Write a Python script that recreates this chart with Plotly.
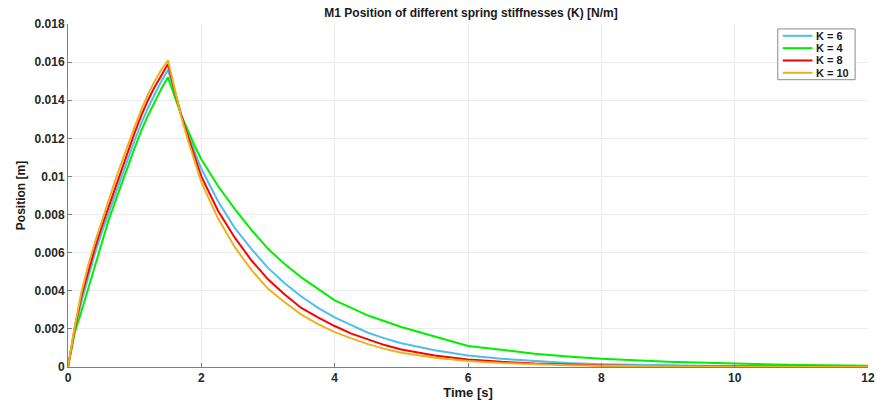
import plotly.graph_objects as go

# Time samples [s]
time_s = [0, 0.05, 0.1, 0.2, 0.3, 0.4, 0.5, 0.6, 0.7, 0.8, 0.9, 1.0, 1.1, 1.2, 1.3, 1.4, 1.5,
          1.6, 1.7, 1.8, 1.9, 2.0, 2.25, 2.5, 2.75, 3.0, 3.25, 3.5, 3.75, 4.0, 4.25, 4.5, 4.75,
          5.0, 5.5, 6.0, 6.5, 7.0, 7.5, 8.0, 9.0, 10.0, 11.0, 12.0]

# Position [m] for each spring stiffness
pos_k6 = [0, 0.0010, 0.0019, 0.0034, 0.0047, 0.0059, 0.0070, 0.0080, 0.0090, 0.0100, 0.0110,
          0.0119, 0.0128, 0.0136, 0.0143, 0.0150, 0.0156,
          0.0144, 0.0132, 0.0122, 0.0113, 0.0104, 0.0087, 0.0073, 0.0062, 0.0052, 0.0044,
          0.0037, 0.0031, 0.0026, 0.0022, 0.0018, 0.0015, 0.00125, 0.00088, 0.0006, 0.00043,
          0.0003, 0.00021, 0.00015, 0.00008, 0.00004, 0.00002, 0.00001]
pos_k4 = [0, 0.0010, 0.0018, 0.0029, 0.0041, 0.0053, 0.0065, 0.0076, 0.0086, 0.0096, 0.0105,
          0.0115, 0.0124, 0.0132, 0.0139, 0.0146, 0.0152,
          0.0142, 0.0132, 0.0124, 0.0116, 0.0109, 0.0095, 0.0083, 0.0072, 0.0062, 0.0054,
          0.0047, 0.0041, 0.0035, 0.0031, 0.0027, 0.0024, 0.0021, 0.0016, 0.0011, 0.0009,
          0.0007, 0.00055, 0.00043, 0.00027, 0.00017, 0.0001, 0.00007]
pos_k8 = [0, 0.0011, 0.0020, 0.0037, 0.0050, 0.0062, 0.0073, 0.0083, 0.0094, 0.0104, 0.0114,
          0.0123, 0.0132, 0.0140, 0.0147, 0.0153, 0.0159,
          0.0145, 0.0132, 0.0121, 0.0110, 0.0100, 0.0082, 0.0068, 0.0056, 0.0046, 0.0038,
          0.0031, 0.0026, 0.00215, 0.00175, 0.00143, 0.00115, 0.00092, 0.0006, 0.0004,
          0.00027, 0.00018, 0.00012, 0.00008, 0.00004, 0.00002, 0.00001, 0]
pos_k10 = [0, 0.0011, 0.0021, 0.0039, 0.0053, 0.0065, 0.0076, 0.0086, 0.0097, 0.0107, 0.0117,
           0.0126, 0.0135, 0.0143, 0.0150, 0.0156, 0.0161,
           0.0146, 0.0131, 0.0119, 0.0108, 0.0097, 0.0078, 0.0063, 0.0051, 0.0041, 0.0034,
           0.00275, 0.00225, 0.00183, 0.0015, 0.0012, 0.00095, 0.00075, 0.00048, 0.00032,
           0.00021, 0.00014, 0.00009, 0.00006, 0.00003, 0.00001, 0.00001, 0]

series_names = ["K = 6", "K = 4", "K = 8", "K = 10"]
series_values = [pos_k6, pos_k4, pos_k8, pos_k10]
series_colors = ["#4DBEEE", "#00EE00", "#FF0000", "#EDB120"]

x_ticks = [0, 2, 4, 6, 8, 10, 12]
y_ticks = [0, 0.002, 0.004, 0.006, 0.008, 0.01, 0.012, 0.014, 0.016, 0.018]
y_tick_text = ["0", "0.002", "0.004", "0.006", "0.008", "0.01", "0.012", "0.014", "0.016", "0.018"]

FONT = "Liberation Sans, Arial, Helvetica, sans-serif"

fig = go.Figure()
for name, vals, col in zip(series_names, series_values, series_colors):
    fig.add_trace(go.Scatter(x=time_s, y=vals, mode="lines", name=name,
                             line=dict(color=col, width=2), showlegend=False))

# Compact MATLAB-style legend box (paper coordinates of the plot area: 807 x 348 px)
def px_x(p):
    return (p - 68) / 807.0

def px_y(p):
    return (372 - p) / 348.0

leg_rows_px = [36.0, 48.5, 61.0, 73.5]
fig.add_shape(type="rect", xref="paper", yref="paper", x0=px_x(784), x1=px_x(862),
              y0=px_y(80.5), y1=px_y(29.0), line=dict(color="#8a8a8a", width=1),
              fillcolor="white", layer="above")
for name, col, ry in zip(series_names, series_colors, leg_rows_px):
    fig.add_shape(type="line", xref="paper", yref="paper", x0=px_x(789), x1=px_x(819),
                  y0=px_y(ry), y1=px_y(ry), line=dict(color=col, width=2), layer="above")
    fig.add_annotation(xref="paper", yref="paper", x=px_x(821), y=px_y(ry),
                       text="<b>%s</b>" % name, showarrow=False, xanchor="left",
                       yanchor="middle", font=dict(family=FONT, size=11, color="#1a1a1a"))

fig.update_layout(
    width=883, height=405,
    margin=dict(l=68, r=8, t=24, b=33),
    paper_bgcolor="white", plot_bgcolor="white",
    font=dict(family=FONT, color="#262626", size=12),
    title=dict(text="<b>M1 Position of different spring stiffnesses (K) [N/m]</b>",
               x=471 / 883.0, xanchor="center", y=1 - 13 / 405.0, yanchor="middle",
               font=dict(family=FONT, size=12, color="#1a1a1a")),
    showlegend=False,
)
fig.update_xaxes(range=[0, 12], tickvals=x_ticks, ticks="inside", ticklen=4,
                 tickcolor="#7f7f7f", showline=True, linecolor="#7f7f7f", linewidth=1,
                 showgrid=True, gridcolor="#ebebeb", gridwidth=1, zeroline=False,
                 tickfont=dict(family=FONT, size=12, color="#262626", weight="bold"),
                 title=dict(text="<b>Time [s]</b>", standoff=2,
                            font=dict(family=FONT, size=13, color="#1a1a1a")))
fig.update_yaxes(range=[0, 0.018], tickvals=y_ticks, ticktext=y_tick_text, ticks="inside",
                 ticklen=4, tickcolor="#7f7f7f", showline=True, linecolor="#7f7f7f",
                 linewidth=1, showgrid=True, gridcolor="#ebebeb", gridwidth=1, zeroline=False,
                 tickfont=dict(family=FONT, size=12, color="#262626", weight="bold"),
                 title=dict(text="<b>Position [m]</b>", standoff=6,
                            font=dict(family=FONT, size=12, color="#1a1a1a")))

fig.write_html("out.html", config={"displayModeBar": False},
               post_script="document.body.style.margin='0';"
                           "document.body.style.overflow='hidden';")
